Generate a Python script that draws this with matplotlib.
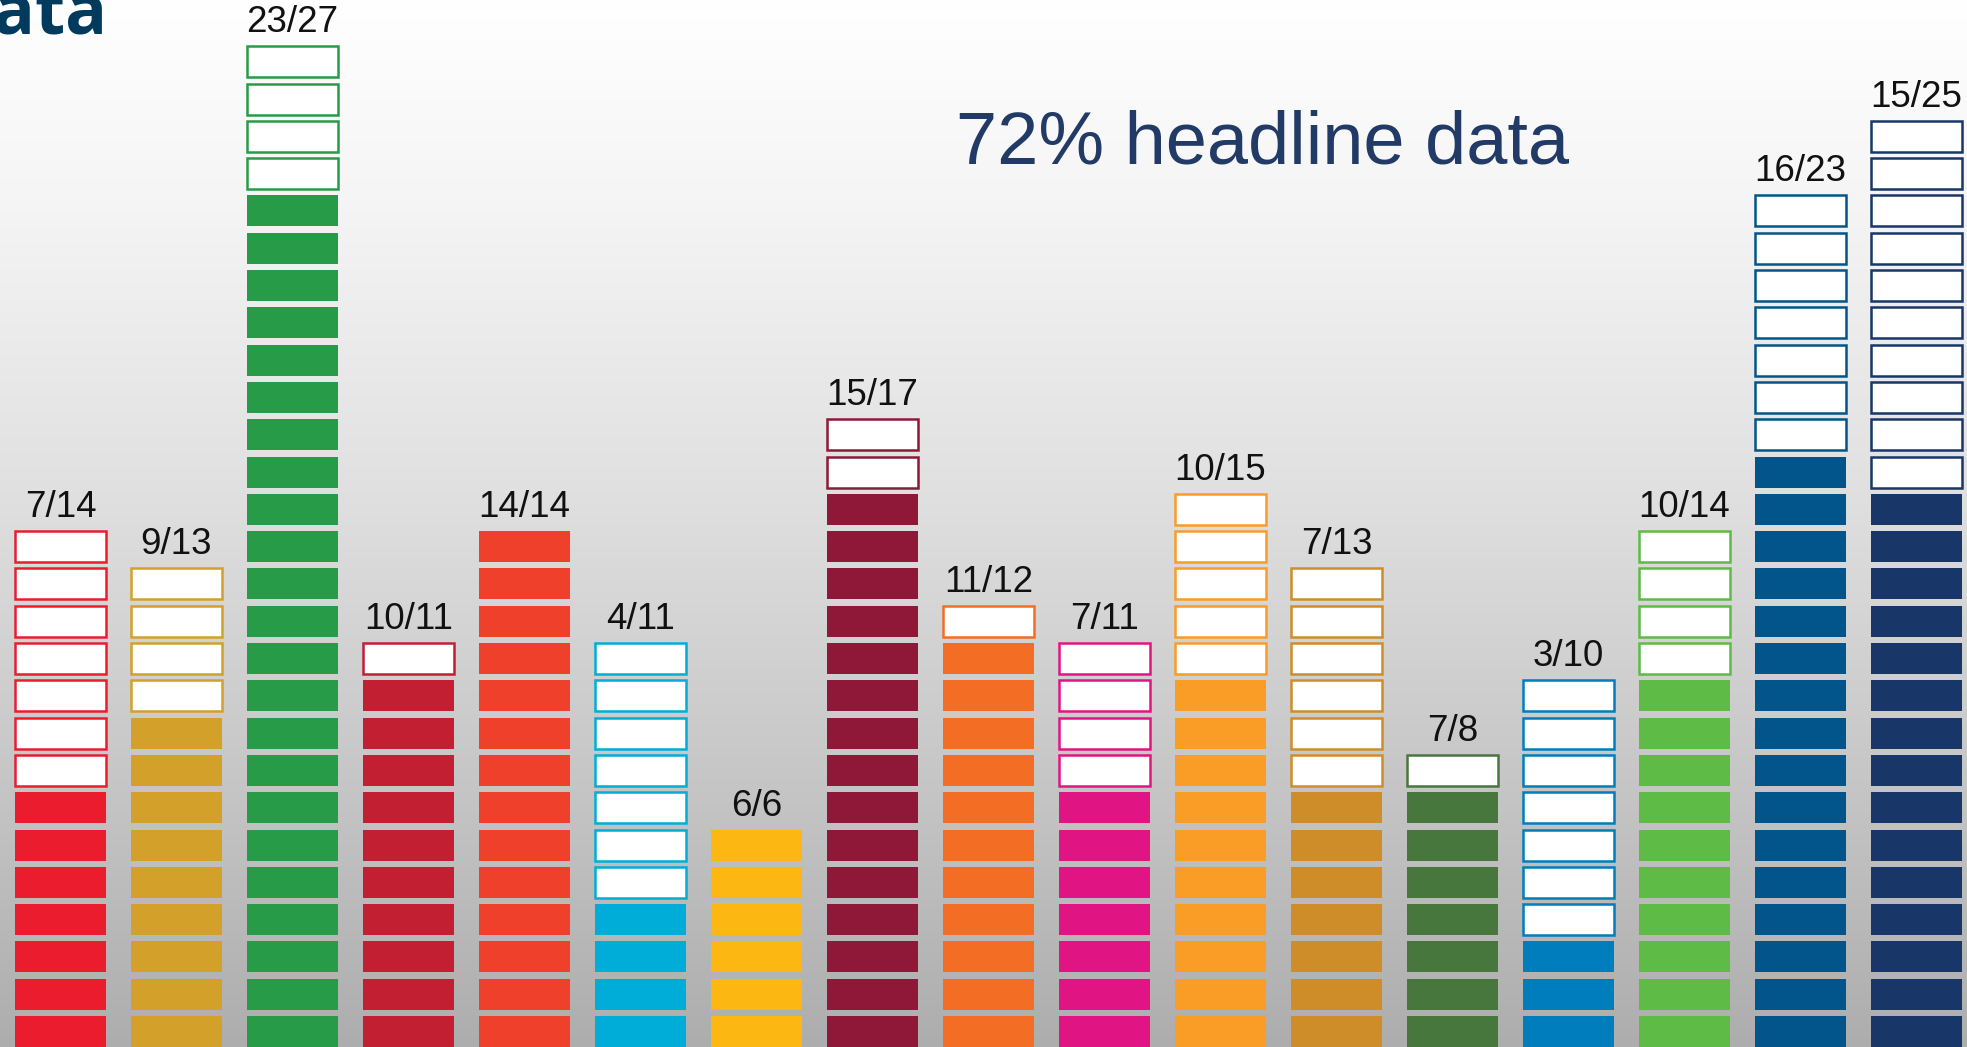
import numpy as np
import matplotlib
matplotlib.use("Agg")
import matplotlib.pyplot as plt

# ---- data ----
goals = list(range(1, 18))
available = [7, 9, 23, 10, 14, 4, 6, 15, 11, 7, 10, 7, 7, 3, 10, 16, 15]
total = [14, 13, 27, 11, 14, 11, 6, 17, 12, 11, 15, 13, 8, 10, 14, 23, 25]
colors = ["#EB1C2D", "#D3A029", "#279B48", "#C31F33", "#EF402B", "#00ADD8",
          "#FDB713", "#8F1838", "#F36D25", "#E11484", "#F99D26", "#CF8D2A",
          "#48773E", "#007DBC", "#5DBB46", "#02558B", "#183668"]
headline = "72% headline data"

W, H = 1967, 1047
fig = plt.figure(figsize=(W / 100, H / 100), dpi=100)

# background gradient
bg = fig.add_axes([0, 0, 1, 1])
bg.set_axis_off()
ys = np.arange(H)
stops_y = [0, 200, 480, 780, 1047]
stops_v = [255, 245, 225, 198, 173]
vals = np.interp(ys, stops_y, stops_v) / 255.0
grad = np.repeat(vals[:, None], 2, axis=1)
bg.imshow(np.dstack([grad, grad, grad]), aspect="auto", extent=[0, 1, 0, 1],
          origin="upper", interpolation="bilinear")
bg.set_xlim(0, 1)
bg.set_ylim(0, 1)

ax = fig.add_axes([0, 0, 1, 1])
ax.patch.set_alpha(0)
ax.set_axis_off()
pitch_x = 116.0
pitch_y = 37.3
x0 = -60.5 / pitch_x
ax.set_xlim(x0, x0 + W / pitch_x)
ax.set_ylim(0, H / pitch_y)

bw = 91 / pitch_x
bh = 31 / pitch_y
for i, (a, t, c) in enumerate(zip(available, total, colors)):
    k_filled = np.arange(a)
    k_empty = np.arange(a, t)
    ax.bar(np.full(len(k_filled), i), bh, bottom=k_filled, width=bw,
           color=c, edgecolor="none", align="center")
    ax.bar(np.full(len(k_empty), i), bh, bottom=k_empty, width=bw,
           color="white", edgecolor=c, linewidth=1.8, align="center")
    ax.text(i, t - 1 + bh + 14 / pitch_y, f"{a}/{t}", ha="center", va="baseline",
            fontsize=26.5, family=["Liberation Sans", "DejaVu Sans"], color="#111111")

ht = fig.text(956 / W, 1 - 163 / H, headline, ha="left", va="baseline",
              fontsize=53, color="#213A66", family=["Liberation Sans", "DejaVu Sans"])
# fit the headline width to the reference width (about 614 px)
renderer = fig.canvas.get_renderer()
wpx = ht.get_window_extent(renderer).width
ht.set_fontsize(53 * 614.0 / wpx)

fig.text(108 / W, 1 - 33 / H, "data", ha="right", va="baseline",
         fontsize=50, fontweight="bold", color="#003A5C",
         family=["Open Sans", "DejaVu Sans"])

fig.savefig("out.png", dpi=100)
